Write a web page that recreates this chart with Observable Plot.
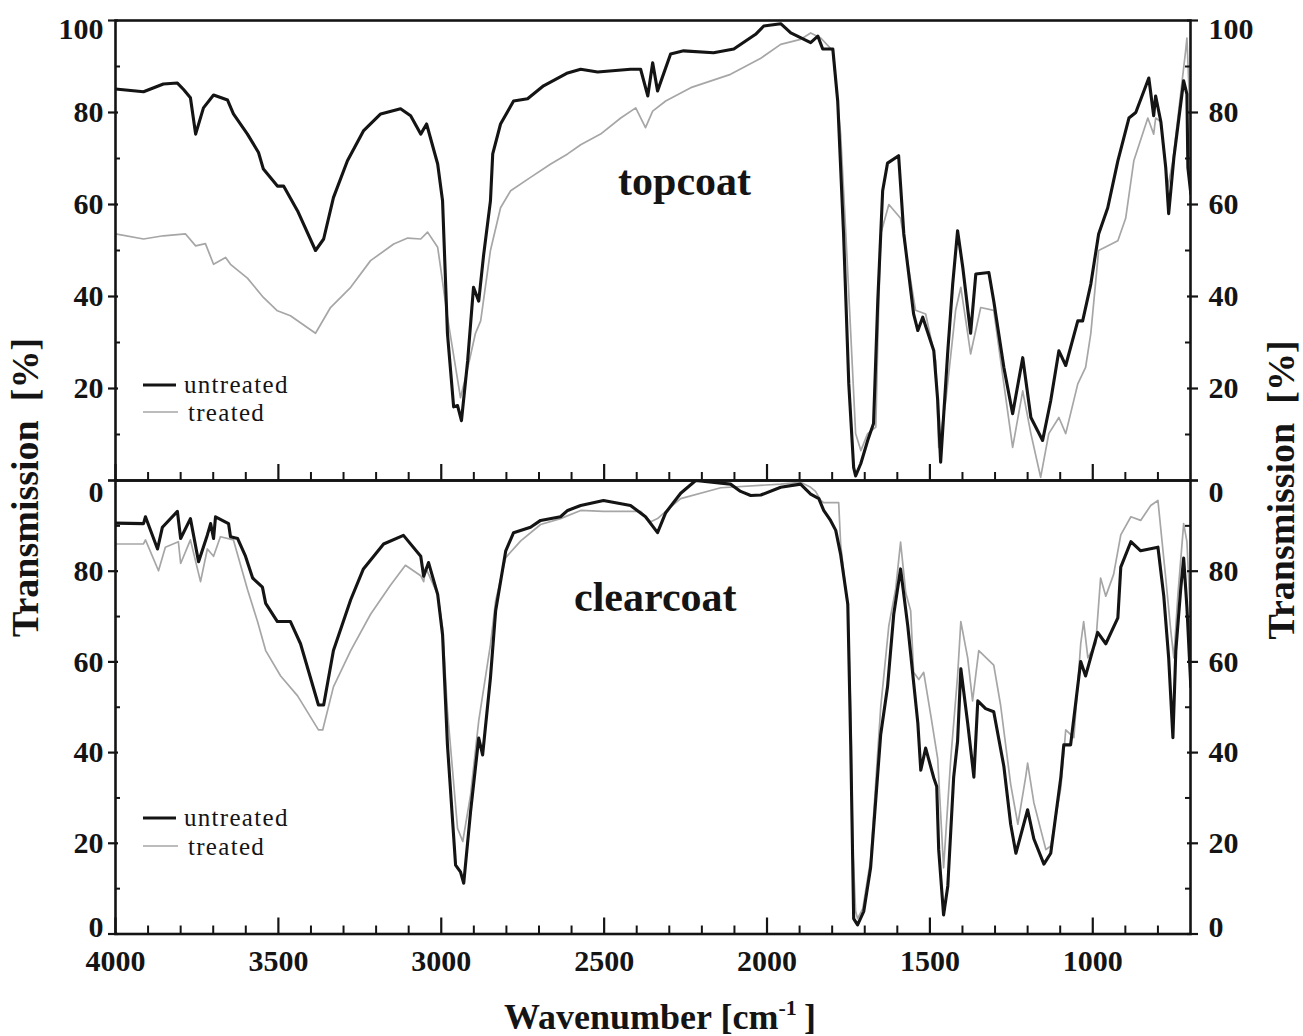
<!DOCTYPE html>
<html>
<head>
<meta charset="utf-8">
<script src="https://cdn.jsdelivr.net/npm/d3@7"></script>
<script src="https://cdn.jsdelivr.net/npm/@observablehq/plot@0.6"></script>
<style>
  body { margin: 0; background: #fff; }
  #chart { position: relative; width: 1303px; height: 1036px; background: #fff; color: #111; overflow: hidden; }
  #chart svg.panel { position: absolute; left: 0; overflow: visible; }
  #overlay { position: absolute; left: 0; top: 0; pointer-events: none; }
</style>
</head>
<body>
<div id="chart"></div>
<script>
// ---------- data (wavenumber in cm^-1, transmission in %) ----------
const topUntreatedWn = [4000,3914,3853,3810,3791,3770,3754,3730,3699,3656,3638,3595,3561,3546,3503,3484,3441,3386,3361,3331,3288,3239,3186,3125,3094,3063,3045,3011,2996,2981,2962,2950,2938,2919,2901,2885,2870,2849,2842,2818,2778,2735,2686,2612,2572,2520,2419,2388,2366,2351,2336,2296,2256,2164,2102,2035,2010,1958,1927,1866,1844,1829,1798,1783,1765,1749,1734,1728,1712,1691,1673,1660,1645,1630,1596,1580,1550,1537,1522,1488,1476,1467,1445,1430,1415,1399,1375,1359,1319,1304,1273,1246,1215,1190,1154,1129,1104,1083,1046,1031,1006,982,954,923,889,868,828,813,807,791,776,767,751,721,711,708,699];
const topUntreatedT = [85.1,84.5,86.2,86.4,85,83.2,75.3,81,83.8,82.7,79.7,75.3,71.3,67.7,64,64,58.6,50,52.5,61.5,69.5,76,79.7,80.8,79.3,75.3,77.5,68.8,60.8,32,16,16.3,13,26,42,39,49,60.8,71,77.5,82.5,83,85.8,88.6,89.4,88.8,89.4,89.4,83.6,90.8,84.7,92.7,93.4,93,93.8,97,98.8,99.3,97.3,95.2,96.6,93.8,93.8,82.5,53.6,21,2.8,1,3.7,8.7,12.4,39,63,69,70.6,53.6,36.2,32.6,35.5,28.2,17.4,4,28.2,42.7,54.3,46.3,32,44.9,45.2,39,24.6,14.5,26.7,13.7,8.7,17.4,28.2,25,34.7,34.7,42.7,53.6,59.3,69.5,78.8,80,87.5,79.3,83.6,78,68,58,70.2,86.9,84,68,62.3];

const topTreatedWn = [4000,3914,3853,3785,3754,3724,3699,3662,3647,3595,3546,3503,3463,3386,3340,3278,3217,3146,3103,3063,3042,3011,3002,2981,2956,2941,2925,2895,2879,2849,2818,2787,2726,2664,2612,2572,2511,2449,2403,2373,2351,2311,2234,2112,2019,1958,1897,1866,1835,1798,1774,1758,1743,1728,1712,1691,1666,1660,1651,1626,1590,1544,1513,1482,1473,1451,1421,1405,1384,1375,1344,1304,1273,1246,1215,1190,1160,1135,1104,1083,1046,1022,1006,982,923,899,874,831,813,807,791,770,754,715,711,699];
const topTreatedT = [53.6,52.5,53.2,53.6,51,51.5,47,48.5,47,44,39.8,36.9,35.8,32,37.6,42,47.8,51.4,52.7,52.5,54,50.7,46.3,35.5,24.6,18,22.5,32,34.7,50,59.3,63,65.9,68.8,71,73,75.3,78.8,81,76.7,80.3,82.5,85.4,88.3,91.8,94.8,95.9,97.3,96.2,93.4,75.3,53.6,32,10.2,6.5,10.2,11.6,30,53.6,60,57,37,36.2,26,7.2,17.4,37,42,32,27.5,37.6,37,21,7.2,19.5,10.2,0.7,10.2,13.7,10.2,21,24.6,32,50,52.1,57,69.5,78.8,75.3,78.8,78,63.7,69.5,93.4,96.2,75.3];

const bottomUntreatedWn = [4000,3914,3908,3871,3856,3810,3800,3770,3745,3718,3708,3699,3693,3653,3647,3625,3601,3579,3549,3539,3503,3463,3432,3377,3361,3331,3278,3239,3177,3116,3063,3054,3039,3011,2996,2981,2956,2941,2931,2910,2885,2873,2849,2833,2802,2778,2726,2695,2634,2612,2572,2502,2419,2373,2336,2311,2265,2219,2112,2081,2050,2019,1958,1897,1866,1841,1826,1805,1789,1774,1752,1743,1734,1722,1703,1682,1651,1630,1611,1590,1568,1537,1528,1513,1488,1479,1473,1458,1445,1427,1415,1405,1384,1365,1353,1329,1304,1273,1252,1236,1200,1181,1150,1129,1098,1089,1068,1037,1022,985,960,923,914,883,853,800,782,767,754,745,730,721,711,699];
const bottomUntreatedT = [90.6,90.5,92,84.9,89.7,93.2,87.2,91.6,82.1,88,90.5,87.2,92,90.5,87.6,87.2,83.3,78.5,76.5,72.9,68.9,68.9,64,50.5,50.5,62.5,73.7,80.5,86,87.9,83.3,78.9,81.9,74.9,66,41.7,15.2,13.7,11.2,27,43.2,39.5,56.5,71.3,84.5,88.5,89.7,91.2,92,93.4,94.5,95.6,94.5,92,88.5,92.9,97.2,100,99.2,97.6,96.7,96.8,98.5,99.2,97,96,93.4,91.2,89,83.7,72.7,41.7,3.4,2,5,14.6,44,54.5,70.5,80.5,68,46.5,36.1,41,34.4,32.5,18.6,4.2,10.6,34.6,42.5,58.5,46.5,34.6,51.4,49.7,49,37,24.2,17.8,27.4,21,15.4,17.8,34.6,41.7,41.7,60.1,56.9,66.5,64,69.7,80.9,86.5,84.5,85.3,74.5,60.9,43.3,62.5,76.1,82.9,72.1,54.5];

const bottomTreatedWn = [4000,3914,3908,3868,3847,3807,3800,3770,3739,3718,3699,3678,3638,3595,3564,3539,3493,3441,3377,3364,3331,3278,3217,3156,3110,3063,3054,3048,3011,2996,2981,2950,2934,2910,2885,2849,2833,2802,2756,2695,2634,2572,2502,2388,2357,2336,2305,2265,2142,1958,1897,1866,1851,1835,1826,1780,1774,1752,1743,1737,1728,1722,1706,1688,1682,1651,1626,1605,1590,1574,1559,1550,1534,1519,1497,1476,1458,1436,1415,1405,1384,1369,1350,1304,1283,1252,1230,1206,1200,1181,1144,1129,1098,1083,1058,1037,1028,1015,991,976,960,936,914,883,853,822,800,776,760,751,739,721,711,699];
const bottomTreatedT = [86,86,86.9,80.1,85.3,86.5,81.7,86.9,77.7,84.9,83.3,87.6,86.9,76,68.9,62.5,56.9,52.5,45,45,54.5,62.5,70.5,76.9,81.3,79,77.7,80.8,74.9,67.5,49.2,23.3,20.4,30.7,47,63.8,73.5,83,86.7,90.3,91.6,93.4,93.2,93.2,90.9,91.6,93.6,96,98.4,99.2,99.6,98.5,97.6,95.6,95.1,95.1,86,71.9,49.2,19.6,5,3.4,5.6,13.7,16.2,50,68,76.1,86.4,75.2,71.3,57.7,56.1,57.7,48.1,38.6,14.6,38.6,56.9,68.9,60.9,51.4,62.5,59.3,50.5,33,24.2,34.6,37.7,29,18.6,19.4,32.2,45,43.3,64,68.9,60.9,64,78.5,74.5,79.3,88,92,91.2,94.5,95.6,78.5,66.5,60.9,74.5,90.5,86.5,68];

// axis ticks and labels
const xDomain = [4000, 700];
const xMajor = [4000, 3500, 3000, 2500, 2000, 1500, 1000];
const xMinor = [3900, 3800, 3700, 3600, 3400, 3300, 3200, 3100, 2900, 2800, 2700, 2600, 2400, 2300, 2200, 2100, 1900, 1800, 1700, 1600, 1400, 1300, 1200, 1100, 900, 800];
const yMajor = [0, 20, 40, 60, 80, 100];
const yMinor = [10, 30, 50, 70, 90];
const topTickLabels = [20, 40, 60, 80];
const topEdgeLabel = [100];
const bottomTickLabels = [20, 40, 60, 80];
const bottomEdgeLabel = [0];
const sharedEdgeLabel = ["0"];   // label printed just below the shared boundary
const seriesNames = ["untreated", "treated"];
const panelNames = ["topcoat", "clearcoat"];
const xTitle = "Wavenumber [cm";
const yTitle = "Transmission  [%]";

// ---------- layout ----------
const W = 1303, ML = 115, MR = 113;
const frameW = W - ML - MR;
const FONT = "'Liberation Serif','Times New Roman',Times,serif";
const BLACK = "#141414", GRAY = "#a6a6a6";

const rows = (wn, t) => wn.slice(0, Math.min(wn.length, t.length)).map((w, i) => ({wn: w, t: t[i]}));

function yLabels(values, dy, text = d => String(d)) {
  return [
    Plot.text(values, {y: d => d, text, frameAnchor: "left", textAnchor: "end", dx: -12, dy}),
    Plot.text(values, {y: d => d, text, frameAnchor: "right", textAnchor: "start", dx: 18, dy})
  ];
}

function panel({height, marginTop, marginBottom, untreated, treated, extra}) {
  const frameH = height - marginTop - marginBottom;
  return Plot.plot({
    width: W, height, marginLeft: ML, marginRight: MR, marginTop, marginBottom,
    x: {domain: xDomain, axis: null},
    y: {domain: [0, 100], axis: null},
    style: {fontFamily: FONT, fontSize: "30px", fontWeight: "bold", color: BLACK, background: "transparent", overflow: "visible"},
    marks: [
      Plot.line(treated, {x: "wn", y: "t", stroke: GRAY, strokeWidth: 1.7, clip: true}),
      Plot.line(untreated, {x: "wn", y: "t", stroke: BLACK, strokeWidth: 3.1, strokeLinejoin: "round", clip: true}),
      Plot.frame({stroke: BLACK, strokeWidth: 2.6}),
      Plot.tickX(xMajor, {x: d => d, insetTop: frameH - 16, stroke: BLACK, strokeWidth: 2.2}),
      Plot.tickX(xMinor, {x: d => d, insetTop: frameH - 8, stroke: BLACK, strokeWidth: 2}),
      Plot.tickY(yMajor, {y: d => d, insetLeft: -7, insetRight: frameW - 3, stroke: BLACK, strokeWidth: 2.2}),
      Plot.tickY(yMinor, {y: d => d, insetLeft: 0, insetRight: frameW - 5, stroke: BLACK, strokeWidth: 2}),
      Plot.tickY(yMajor, {y: d => d, insetLeft: frameW - 3, insetRight: -8, stroke: BLACK, strokeWidth: 2.2}),
      Plot.tickY(yMinor, {y: d => d, insetLeft: frameW - 5, insetRight: 0, stroke: BLACK, strokeWidth: 2}),
      ...extra
    ]
  });
}

const chart = document.getElementById("chart");

const topSvg = panel({
  height: 481, marginTop: 20, marginBottom: 1,
  untreated: rows(topUntreatedWn, topUntreatedT),
  treated: rows(topTreatedWn, topTreatedT),
  extra: [
    ...yLabels(topTickLabels, 0),
    ...yLabels(topEdgeLabel, 9),
    Plot.text([panelNames[0]], {x: () => 2253, y: () => 65, text: d => d, fontSize: 42})
  ]
});
topSvg.classList.add("panel");
topSvg.style.top = "0px";
chart.appendChild(topSvg);

const bottomSvg = panel({
  height: 557, marginTop: 1, marginBottom: 102.5,
  untreated: rows(bottomUntreatedWn, bottomUntreatedT),
  treated: rows(bottomTreatedWn, bottomTreatedT),
  extra: [
    ...yLabels(bottomTickLabels, 0),
    ...yLabels(bottomEdgeLabel, -7),
    ...yLabels([100], 12, () => sharedEdgeLabel[0]),
    Plot.text(xMajor, {x: d => d, frameAnchor: "bottom", dy: 37, text: d => String(d)}),
    Plot.text([panelNames[1]], {x: () => 2343, y: () => 74.2, text: d => d, fontSize: 42})
  ]
});
bottomSvg.classList.add("panel");
bottomSvg.style.top = "479px";
chart.appendChild(bottomSvg);

// ---------- titles and legends ----------
const ov = d3.select(chart).append("svg").attr("id", "overlay")
  .attr("width", W).attr("height", 1036)
  .style("font-family", FONT).style("fill", BLACK);

ov.append("text").attr("transform", "translate(38,487.5) rotate(-90)")
  .attr("text-anchor", "middle").attr("font-size", 38).attr("font-weight", "bold")
  .attr("xml:space", "preserve").style("white-space", "pre").text(yTitle);
ov.append("text").attr("transform", "translate(1294,490) rotate(-90)")
  .attr("text-anchor", "middle").attr("font-size", 38).attr("font-weight", "bold")
  .attr("xml:space", "preserve").style("white-space", "pre").text(yTitle);

const xt = ov.append("text").attr("x", 660).attr("y", 1029).attr("text-anchor", "middle")
  .attr("font-size", 36).attr("font-weight", "bold");
xt.append("tspan").text(xTitle);
xt.append("tspan").attr("font-size", 22).attr("dy", -14).text("-1");
xt.append("tspan").attr("dy", 14).text("\u2009]");

function legend(lineY1, textY1, lineY2, textY2) {
  ov.append("line").attr("x1", 143).attr("x2", 176).attr("y1", lineY1).attr("y2", lineY1)
    .attr("stroke", BLACK).attr("stroke-width", 3.1);
  ov.append("text").attr("x", 184).attr("y", textY1).attr("font-size", 25)
    .attr("letter-spacing", 1.3).text(seriesNames[0]);
  ov.append("line").attr("x1", 143).attr("x2", 178).attr("y1", lineY2).attr("y2", lineY2)
    .attr("stroke", GRAY).attr("stroke-width", 1.7);
  ov.append("text").attr("x", 188).attr("y", textY2).attr("font-size", 25)
    .attr("letter-spacing", 1.3).text(seriesNames[1]);
}
legend(385, 393, 412, 421);
legend(818, 826, 846, 855);
</script>
</body>
</html>
